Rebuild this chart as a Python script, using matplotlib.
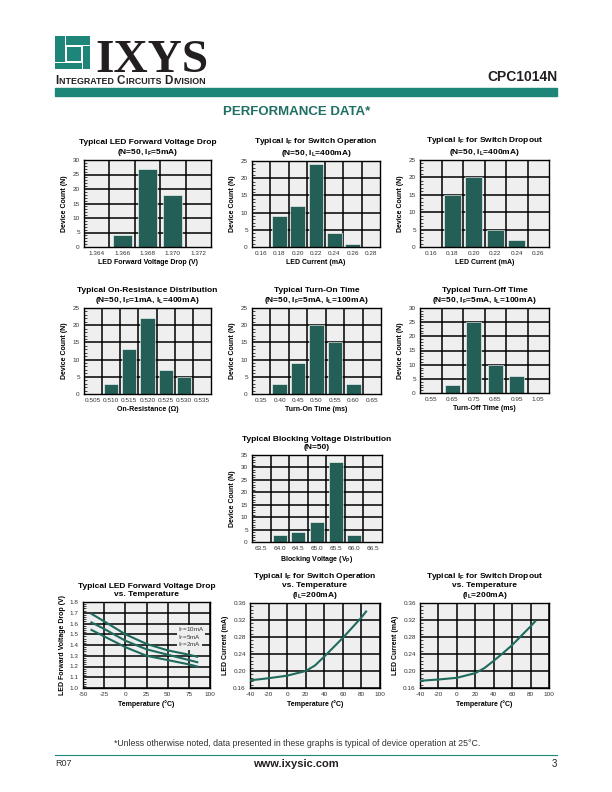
import matplotlib
matplotlib.use("Agg")
import matplotlib.pyplot as plt
from matplotlib.patches import Rectangle
from matplotlib.lines import Line2D
from matplotlib.ticker import MultipleLocator, AutoMinorLocator

plt.rcParams['font.family'] = ['Liberation Sans Narrow', 'Liberation Sans', 'DejaVu Sans']
plt.rcParams['mathtext.fontset'] = 'custom'
plt.rcParams['mathtext.rm'] = 'Liberation Sans'
plt.rcParams['mathtext.bf'] = 'Liberation Sans:bold'
plt.rcParams['mathtext.it'] = 'Liberation Sans'
plt.rcParams['axes.unicode_minus'] = False

TEAL = '#1e8579'
BAR = '#235f56'
LINE = '#1e6b5e'
FACE = '#efefef'

# ---- data
vf_bins = ['1.364', '1.366', '1.368', '1.370', '1.372']
vf_count = [0, 4, 27, 18, 0]

ifon_bins = ['0.16', '0.18', '0.20', '0.22', '0.24', '0.26', '0.28']
ifon_count = [0, 9, 12, 24, 4, 1, 0]

ifoff_bins = ['0.16', '0.18', '0.20', '0.22', '0.24', '0.26']
ifoff_count = [0, 15, 20, 5, 2, 0]

ron_bins = ['0.505', '0.510', '0.515', '0.520', '0.525', '0.530', '0.535']
ron_count = [0, 3, 13, 22, 7, 5, 0]

ton_bins = ['0.35', '0.40', '0.45', '0.50', '0.55', '0.60', '0.65']
ton_count = [0, 3, 9, 20, 15, 3, 0]

toff_bins = ['0.55', '0.65', '0.75', '0.85', '0.95', '1.05']
toff_count = [0, 3, 25, 10, 6, 0]

vb_bins = ['63.5', '64.0', '64.5', '65.0', '65.5', '66.0', '66.5']
vb_count = [0, 3, 4, 8, 32, 3, 0]

vf_temp = [-40, -25, 0, 25, 50, 75, 85]
vf_10ma = [1.69, 1.62, 1.50, 1.41, 1.35, 1.31, 1.29]
vf_5ma = [1.61, 1.55, 1.44, 1.36, 1.31, 1.26, 1.24]
vf_2ma = [1.54, 1.48, 1.38, 1.30, 1.26, 1.22, 1.20]
vf_labels = ['I$_F$=10mA', 'I$_F$=5mA', 'I$_F$=2mA']

if_temp = [-40, -20, 0, 20, 30, 40, 50, 60, 70, 80, 85]
if_on_temp = [0.178, 0.183, 0.189, 0.200, 0.213, 0.234, 0.256, 0.278, 0.302, 0.326, 0.340]
if_off_temp = [0.177, 0.180, 0.184, 0.195, 0.207, 0.224, 0.242, 0.261, 0.283, 0.305, 0.317]

fig = plt.figure(figsize=(6.12, 7.92), dpi=100)
W, H = 612.0, 792.0


def box(l, t, r, b):
    return [l / W, 1 - b / H, (r - l) / W, (b - t) / H]


def ftext(x, y, s, **kw):
    return fig.text(x / W, 1 - y / H, s, **kw)


def style_axes(ax):
    ax.set_facecolor(FACE)
    for sp in ax.spines.values():
        sp.set_linewidth(1.0)
        sp.set_color('black')
    ax.tick_params(axis='both', which='major', labelsize=4.6, length=0, pad=3, colors='#333333')
    ax.tick_params(axis='y', which='minor', direction='in', length=2, width=0.5)
    ax.tick_params(axis='y', which='major', direction='in', length=3, width=0.6)


def hist_chart(rect, cats, counts, ymax, title, xlabel, bw=0.78):
    ax = fig.add_axes(box(*rect))
    style_axes(ax)
    n = len(cats)
    x = list(range(n))
    ax.set_xlim(-0.5, n - 0.5)
    ax.set_ylim(0, ymax)
    ax.yaxis.set_major_locator(MultipleLocator(5))
    ax.yaxis.set_minor_locator(AutoMinorLocator(5))
    for i in range(1, n):
        ax.axvline(i - 0.5, color='black', lw=1.1, zorder=1)
    for v in range(5, ymax, 5):
        ax.axhline(v, color='black', lw=1.1, zorder=1)
    ax.bar(x, counts, width=bw, color=BAR, edgecolor='white', linewidth=0.4, zorder=2)
    ax.set_xticks(x)
    ax.set_xticklabels(cats)
    ax.set_xlabel(xlabel, fontsize=5, fontweight='bold', labelpad=2)
    ax.set_ylabel('Device Count (N)', fontsize=5, fontweight='bold', labelpad=3)
    ax.set_title(title, fontsize=6, fontweight='bold', pad=4.5, linespacing=1.15)
    return ax


def line_chart(rect, xs, ys, xlim, xstep, ylim, ystep, title, ylabel, yfmt):
    ax = fig.add_axes(box(*rect))
    style_axes(ax)
    ax.tick_params(axis='x', which='minor', direction='in', length=2, width=0.5)
    ax.set_xlim(*xlim)
    ax.set_ylim(*ylim)
    ax.xaxis.set_major_locator(MultipleLocator(xstep))
    ax.yaxis.set_major_locator(MultipleLocator(ystep))
    ax.yaxis.set_minor_locator(AutoMinorLocator(5))
    ax.grid(True, which='major', color='black', lw=1.1, zorder=1)
    ax.yaxis.set_major_formatter(yfmt)
    for y in ys:
        ax.plot(xs, y, color=LINE, lw=1.5, zorder=3)
    ax.set_xlabel('Temperature (\u00b0C)', fontsize=5, fontweight='bold', labelpad=2)
    ax.set_ylabel(ylabel, fontsize=5, fontweight='bold', labelpad=3)
    ax.set_title(title, fontsize=6, fontweight='bold', pad=4.5, linespacing=1.1)
    return ax


# ---- header: logo blocks (pinwheel of teal pieces)
ax_logo = fig.add_axes(box(55, 36, 90, 69))
ax_logo.set_xlim(55, 90)
ax_logo.set_ylim(69, 36)
ax_logo.axis('off')
for (l, t, r, b) in [(55, 36, 65, 61.5), (66, 36, 90, 45), (82.5, 46, 90, 69),
                     (55, 62.5, 81.5, 69), (67, 47, 80.5, 60.5)]:
    ax_logo.add_patch(Rectangle((l, t), r - l, b - t, color=TEAL, lw=0))

ftext(95, 72, 'IXYS', fontsize=34, fontweight='bold', family='Liberation Serif', va='baseline', ha='left',
      color='#231f20')

# small-caps line under the logo
renderer = fig.canvas.get_renderer()
xpos = 55.0
for piece, size in [('I', 8.4), ('NTEGRATED ', 6.4), ('C', 8.4), ('IRCUITS ', 6.4), ('D', 8.4), ('IVISION', 6.4)]:
    t = ftext(xpos, 84.5, piece, fontsize=size, fontweight='bold', va='baseline', ha='left',
              family='Liberation Sans', color='#231f20')
    bb = t.get_window_extent(renderer)
    xpos = bb.x1 + 0.6

ftext(557, 77, 'CPC1014N', fontsize=10, fontweight='bold', va='center', ha='right', family='Liberation Sans',
      color='#231f20')
fig.patches.append(Rectangle((55 / W, 1 - 96 / H), 502 / W, 8 / H, transform=fig.transFigure,
                             color=TEAL, zorder=0))
ftext(297, 112, 'PERFORMANCE DATA*', fontsize=9.5, fontweight='bold', va='center', ha='center',
      family='Liberation Sans', color='#1f6f64')

# ---- histograms
hist_chart((84, 160, 211, 247), vf_bins, vf_count, 30,
           'Typical LED Forward Voltage Drop\n(N=50, I$_\\mathbf{F}$=5mA)', 'LED Forward Voltage Drop (V)', bw=0.75)
hist_chart((252, 161, 380, 247), ifon_bins, ifon_count, 25,
           'Typical I$_\\mathbf{F}$ for Switch Operation\n(N=50, I$_\\mathbf{L}$=400mA)', 'LED Current (mA)', bw=0.8)
hist_chart((420, 160, 549, 247), ifoff_bins, ifoff_count, 25,
           'Typical I$_\\mathbf{F}$ for Switch Dropout\n(N=50, I$_\\mathbf{L}$=400mA)', 'LED Current (mA)', bw=0.8)
hist_chart((84, 308, 211, 394), ron_bins, ron_count, 25,
           'Typical On-Resistance Distribution\n(N=50, I$_\\mathbf{F}$=1mA, I$_\\mathbf{L}$=400mA)',
           'On-Resistance (\u03a9)', bw=0.78)
hist_chart((252, 308, 381, 394), ton_bins, ton_count, 25,
           'Typical Turn-On Time\n(N=50, I$_\\mathbf{F}$=5mA, I$_\\mathbf{L}$=100mA)', 'Turn-On Time (ms)', bw=0.78)
hist_chart((420, 308, 549, 393), toff_bins, toff_count, 30,
           'Typical Turn-Off Time\n(N=50, I$_\\mathbf{F}$=5mA, I$_\\mathbf{L}$=100mA)', 'Turn-Off Time (ms)', bw=0.72)
hist_chart((252, 455, 382, 542), vb_bins, vb_count, 35,
           'Typical Blocking Voltage Distribution\n(N=50)', 'Blocking Voltage (V$_\\mathbf{P}$)', bw=0.75)

# ---- temperature curves
ax8 = line_chart((83, 602, 210, 688), vf_temp, [vf_10ma, vf_5ma, vf_2ma], (-50, 100), 25, (1.0, 1.8), 0.1,
                 'Typical LED Forward Voltage Drop\nvs. Temperature', 'LED Forward Voltage Drop (V)', '{x:.1f}')
for lbl, yv in zip(vf_labels, [1.54, 1.47, 1.40]):
    ax8.text(62, yv, lbl, fontsize=4.5, ha='left', va='center', zorder=4, color='#333333',
             bbox=dict(facecolor=FACE, edgecolor='none', pad=0.6))

line_chart((250, 603, 380, 688), if_temp, [if_on_temp], (-40, 100), 20, (0.16, 0.36), 0.04,
           'Typical I$_\\mathbf{F}$ for Switch Operation\nvs. Temperature\n(I$_\\mathbf{L}$=200mA)',
           'LED Current (mA)', '{x:.2f}')
line_chart((420, 603, 549, 688), if_temp, [if_off_temp], (-40, 100), 20, (0.16, 0.36), 0.04,
           'Typical I$_\\mathbf{F}$ for Switch Dropout\nvs. Temperature\n(I$_\\mathbf{L}$=200mA)',
           'LED Current (mA)', '{x:.2f}')

# ---- footer
ftext(297, 744, '*Unless otherwise noted, data presented in these graphs is typical of device operation at 25\u00b0C.',
      fontsize=6.3, ha='center', va='center', family='Liberation Sans', color='#333333')
fig.add_artist(Line2D([55 / W, 557 / W], [1 - 755 / H, 1 - 755 / H], color=TEAL, lw=0.8))
ftext(55, 764, 'R07', fontsize=6.5, ha='left', va='center', family='Liberation Sans', color='#333333')
ftext(296, 764, 'www.ixysic.com', fontsize=8, fontweight='bold', ha='center', va='center',
      family='Liberation Sans', color='#231f20')
ftext(557, 764, '3', fontsize=7, ha='right', va='center', family='Liberation Sans', color='#231f20')

fig.savefig('out.png', dpi=100)
